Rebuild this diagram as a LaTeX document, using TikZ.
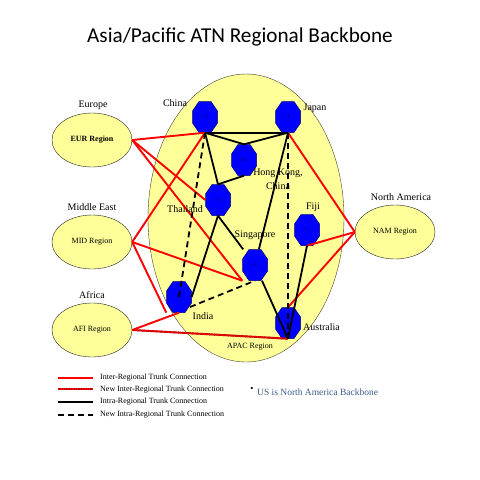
\documentclass[tikz,border=0pt]{standalone}
\usepackage{fontspec}
\setmainfont{Liberation Serif}
\newfontfamily\titlefont{Carlito}
\usetikzlibrary{shapes.geometric,calc}
\definecolor{paleyel}{HTML}{FFFF99}
\definecolor{octblue}{HTML}{0000FF}
\definecolor{octedge}{HTML}{000080}
\definecolor{redline}{HTML}{FF0000}
\definecolor{usblue}{HTML}{3B5C8C}
% octagon drawn directly, then a named node (same size) carrying its label
\newcommand{\octnode}[4]{%
  \filldraw[fill=octblue, draw=octedge, line width=0.5pt, shift={(#2,#3)}]
    (-6,-15.5) -- ++(12,0) -- ++(6.5,9.5) -- ++(0,12) -- ++(-6.5,9.5)
    -- ++(-12,0) -- ++(-6.5,-9.5) -- ++(0,-12) -- cycle;
  \node[octbox] (#1) at (#2,#3) {#4};}
\begin{document}
\begin{tikzpicture}[x=1pt,y=-1pt,
  region/.style={ellipse, draw=black!85, fill=paleyel, minimum width=80pt, minimum height=54pt, inner sep=0pt, font=\fontsize{8}{9}\selectfont},
  octbox/.style={rectangle, minimum width=25pt, minimum height=31pt, inner sep=0pt, font=\fontsize{5}{5}\selectfont, text=octedge},
  lbl/.style={font=\fontsize{10}{14}\selectfont, inner sep=0pt},
  smalllbl/.style={font=\fontsize{8}{9}\selectfont, inner sep=0pt},
  legtext/.style={font=\fontsize{8}{9}\selectfont, inner sep=0pt, anchor=west},
  inter/.style={draw=redline, line width=1.9pt},
  newinter/.style={draw=redline!70!black, line width=1.9pt, postaction={draw=redline, line width=1.9pt, dash pattern=on 1.2pt off 1.2pt}},
  intra/.style={draw=black, line width=1.8pt},
  newintra/.style={draw=black, line width=1.8pt, dash pattern=on 6pt off 4pt},
]
\useasboundingbox[fill=white] (0,0) rectangle (480,480);

% title
\node[font=\titlefont\fontsize{21.2}{25}\selectfont, inner sep=0pt] (title) at (240,37) {Asia/Pacific ATN Regional Backbone};

% APAC area
\node[ellipse, draw=black!70!olive, fill=paleyel, minimum width=196pt, minimum height=288pt, inner sep=0pt] (apac) at (246,218) {};

% regions
\node[region, font=\bfseries\fontsize{8}{9}\selectfont] (EUR) at (92,140) {EUR Region};
\node[region] (MID) at (92,242) {MID Region};
\node[region] (AFI) at (92,330) {AFI Region};
\node[region] (NAM) at (395,232) {NAM Region};

% backbone nodes
\octnode{CN}{205}{117}{CN}
\octnode{JP}{288}{117}{JP}
\octnode{HK}{244}{160}{HK}
\octnode{TH}{218}{200}{TH}
\octnode{FJ}{307}{230}{FJ}
\octnode{SG}{255}{265}{SG}
\octnode{IN}{179}{297}{IN}
\octnode{AU}{288}{323}{AU}

% inter-regional trunks
\draw[inter] (EUR.east) -- (CN.south);
\draw[inter] (EUR.east) -- (TH.west);
\draw[inter] (EUR.east) -- (SG.south west);
\draw[inter] (MID.east) -- (CN.south);
\draw[inter] (MID.east) -- (SG.south west);
\draw[inter] (MID.east) -- (IN.south west);
\draw[inter] (AFI.east) -- (IN.south);
\draw[newinter] (AFI.east) -- (AU.south);
\draw[inter] (NAM.west) -- (JP.south);
\draw[inter] (NAM.west) -- (FJ.south);
\draw[inter] (NAM.west) -- (AU.north);

% intra-regional trunks
\draw[intra] (CN.south) -- (JP.south);
\draw[intra] (CN.south) -- (HK.north);
\draw[intra] (JP.south) -- (HK.north);
\draw[intra] (CN.south) -- (TH.north);
\draw[intra] (HK.south) -- (TH.north);
\draw[intra] (TH.south) -- (SG);
\draw[intra] (SG) -- (AU.south);
\draw[intra] (JP.south) -- (SG);
\draw[intra] (TH.south) -- (IN.east);
\draw[intra] (FJ.south) -- (AU.south);
\draw[newintra] (CN.south) -- (IN.center);
\draw[newintra] (JP.south) -- (AU.south);
\draw[newintra] ($(IN.center)+(11,10)$) -- (SG.south);

% labels
\node[lbl] (lEurope) at (93,105) {Europe};
\node[lbl] (lChina) at (175,103) {China};
\node[lbl] (lJapan) at (315,108) {Japan};
\node[lbl] (lMid) at (92,207) {Middle East};
\node[lbl] (lAfrica) at (92,295) {Africa};
\node[lbl] (lNA) at (401,197) {North America};
\node[lbl, align=center] (lHK) at (278,179) {Hong Kong,\\China};
\node[lbl] (lTH) at (185,209) {Thailand};
\node[lbl] (lFJ) at (313,207) {Fiji};
\node[lbl] (lSG) at (255,235) {Singapore};
\node[lbl] (lIN) at (203,316) {India};
\node[lbl, anchor=west] (lAU) at (303,327) {Australia};
\node[smalllbl] (lAPAC) at (250,347) {APAC Region};

% legend
\coordinate (k1a) at (58,378); \coordinate (k1b) at (93,378);
\coordinate (k2a) at (58,389); \coordinate (k2b) at (93,389);
\coordinate (k3a) at (58,402); \coordinate (k3b) at (93,402);
\coordinate (k4a) at (58,415); \coordinate (k4b) at (93,415);
\draw[inter] (k1a) -- (k1b);
\draw[newinter] (k2a) -- (k2b);
\draw[intra] (k3a) -- (k3b);
\draw[newintra] (k4a) -- (k4b);
\node[legtext] (t1) at (100,378) {Inter-Regional Trunk Connection};
\node[legtext] (t2) at (100,390) {New Inter-Regional Trunk Connection};
\node[legtext] (t3) at (100,402) {Intra-Regional Trunk Connection};
\node[legtext] (t4) at (100,415) {New Intra-Regional Trunk Connection};
\node[font=\fontsize{9}{10}\selectfont, inner sep=0pt] (bullet) at (252,389) {•};
\node[font=\fontsize{9.5}{11}\selectfont, inner sep=0pt, anchor=west, text=usblue] (usnote) at (257,392) {US is North America Backbone};
\end{tikzpicture}
\end{document}
